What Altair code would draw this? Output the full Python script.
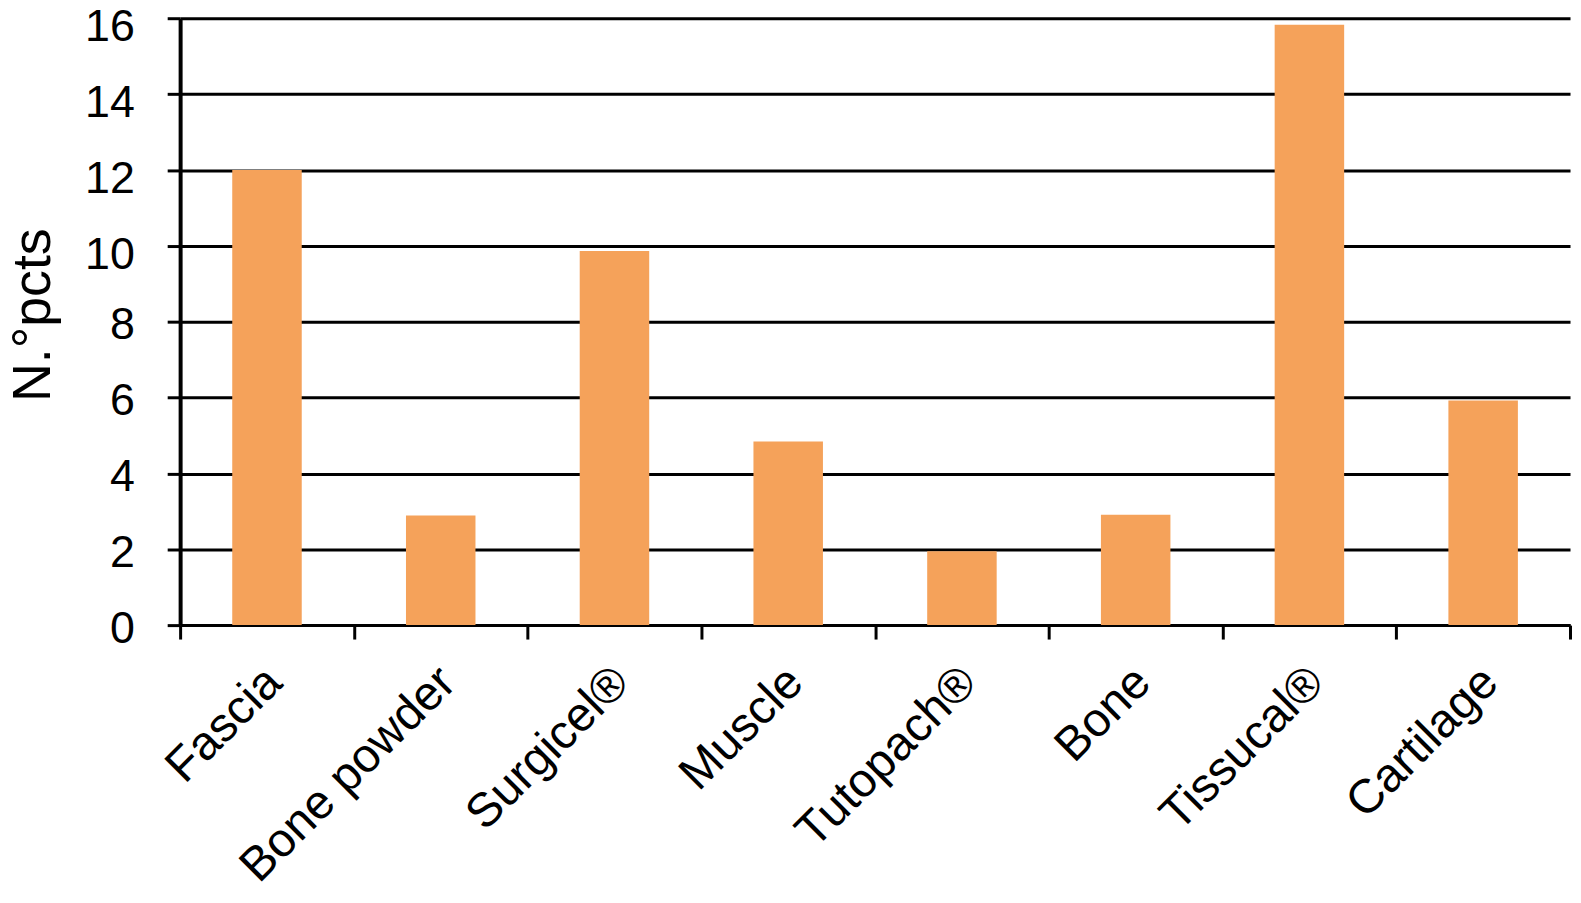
import altair as alt
import pandas as pd

categories = ["Fascia", "Bone powder", "Surgicel®", "Muscle", "Tutopach®", "Bone", "Tissucal®", "Cartilage"]
values = [12.0, 2.89, 9.86, 4.84, 1.95, 2.91, 15.83, 5.92]
y_ticks_low = [0, 2, 4, 6, 8]
y_ticks_high = [10, 12, 14, 16]

df = pd.DataFrame({"cat": categories, "val": values})

FONT = "Liberation Sans"
yscale = alt.Scale(domain=[0, 16], nice=False)
xscale = alt.Scale(paddingInner=0, paddingOuter=0)

x_axis = alt.Axis(
    title=None,
    labelAngle=-45,
    labelAlign="right",
    labelBaseline="top",
    labelFontSize=48,
    labelFont=FONT,
    labelColor="black",
    labelPadding=19,
    labelOffset=-10,
    labelLimit=0,
    tickBand="extent",
    tickSize=14,
    tickWidth=3,
    tickColor="black",
    domainColor="black",
    domainWidth=3,
    grid=False,
)

common_y = dict(
    orient="left",
    labelFontSize=45,
    labelFont=FONT,
    labelColor="black",
    labelPadding=33,
    tickSize=13,
    tickWidth=3,
    tickColor="black",
    grid=True,
    gridColor="black",
    gridWidth=3,
    gridOpacity=1,
)

bars = alt.Chart(df).mark_bar(color="#F5A25A", width={"band": 0.4}).encode(
    x=alt.X("cat:N", sort=categories, scale=xscale, axis=x_axis),
    y=alt.Y("val:Q", scale=yscale, axis=alt.Axis(
        title="N.°pcts",
        titleFont=FONT,
        titleFontSize=54,
        titleFontWeight="normal",
        titleColor="black",
        titleX=-131,
        titleY=298,
        titleBaseline="alphabetic",
        values=y_ticks_low,
        labelOffset=3,
        domainColor="black",
        domainWidth=4,
        **common_y,
    )),
)

upper_axis = alt.Chart(df).mark_bar(opacity=0, width={"band": 0.4}).encode(
    x=alt.X("cat:N", sort=categories, scale=xscale, axis=x_axis),
    y=alt.Y("val:Q", scale=yscale, axis=alt.Axis(
        title=None,
        values=y_ticks_high,
        labelOffset=8.5,
        domain=False,
        **common_y,
    )),
)

chart = alt.layer(bars, upper_axis).resolve_axis(y="independent").properties(
    width=1397,
    height=610,
    autosize=alt.AutoSizeParams(type="none"),
    padding={"left": 173, "top": 8, "right": 3, "bottom": 270},
    background="white",
).configure_view(stroke=None)

chart.save("out.html", embed_options={"renderer": "svg", "actions": False})
